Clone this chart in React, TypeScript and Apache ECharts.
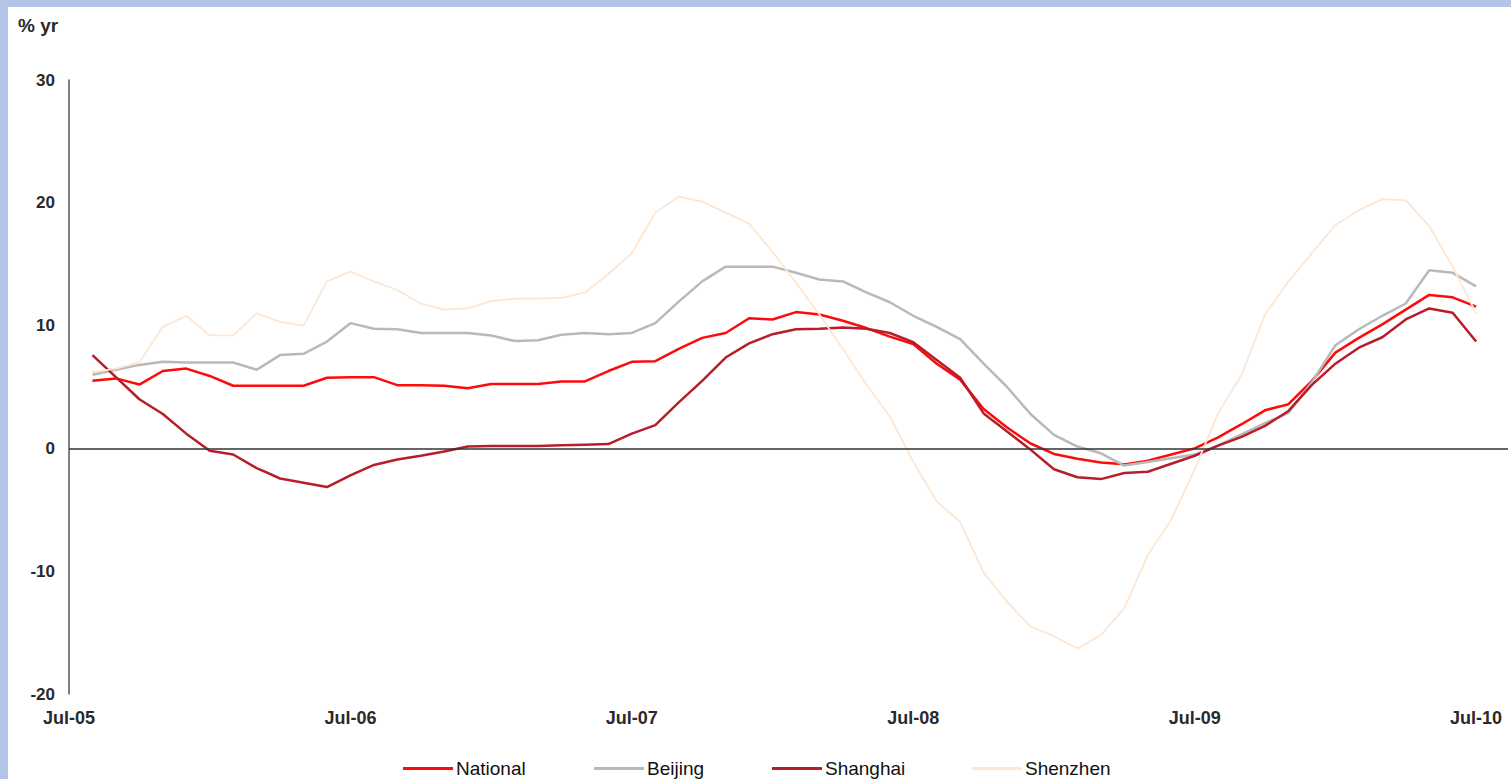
import React, { useEffect, useRef } from "react";
import * as echarts from "echarts";

// Monthly % yr change, Aug-05 .. Jul-10 (x index 1..60; Jul-05 = 0)
const tickLabels = ["Jul-05", "Jul-06", "Jul-07", "Jul-08", "Jul-09", "Jul-10"];
const yTicks = [-20, -10, 0, 10, 20, 30];

const national = [
  5.5, 5.7, 5.2, 6.3, 6.5, 5.9, 5.1, 5.1, 5.1, 5.1,
  5.75, 5.8, 5.8, 5.15, 5.15, 5.1, 4.9, 5.25, 5.25, 5.25,
  5.45, 5.45, 6.3, 7.05, 7.1, 8.1, 9.0, 9.4, 10.6, 10.5,
  11.1, 10.9, 10.4, 9.8, 9.1, 8.5, 6.9, 5.6, 3.2, 1.7,
  0.4, -0.45, -0.85, -1.15, -1.3, -1.0, -0.5, 0.0, 0.9, 1.97,
  3.1, 3.6, 5.5, 7.8, 9.0, 10.1, 11.3, 12.5, 12.3, 11.55,
];
const beijing = [
  6.0, 6.4, 6.8, 7.05, 7.0, 7.0, 7.0, 6.4, 7.6, 7.7,
  8.7, 10.2, 9.75, 9.7, 9.4, 9.4, 9.4, 9.2, 8.75, 8.8,
  9.25, 9.4, 9.3, 9.4, 10.2, 11.95, 13.6, 14.8, 14.8, 14.8,
  14.3, 13.75, 13.6, 12.7, 11.9, 10.8, 9.9, 8.9, 6.9, 5.0,
  2.8, 1.1, 0.15, -0.4, -1.4, -1.1, -0.8, -0.5, 0.25, 1.15,
  2.05, 2.9, 5.4, 8.4, 9.7, 10.8, 11.8, 14.5, 14.3, 13.2,
];
const shanghai = [
  7.6, 5.8, 4.0, 2.8, 1.2, -0.2, -0.5, -1.6, -2.45, -2.8,
  -3.15, -2.2, -1.35, -0.9, -0.6, -0.25, 0.15, 0.2, 0.2, 0.2,
  0.25, 0.3, 0.35, 1.2, 1.9, 3.75, 5.5, 7.4, 8.55, 9.3,
  9.7, 9.75, 9.85, 9.75, 9.4, 8.65, 7.2, 5.75, 2.85, 1.37,
  -0.1, -1.7, -2.35, -2.5, -2.0, -1.9, -1.25, -0.6, 0.23, 0.94,
  1.83, 3.05, 5.17, 6.9, 8.2, 9.05, 10.5, 11.4, 11.05, 8.7,
];
const shenzhen = [
  6.2, 6.5, 7.0, 9.9, 10.8, 9.2, 9.2, 11.0, 10.3, 10.0,
  13.6, 14.4, 13.6, 12.9, 11.8, 11.3, 11.4, 12.0, 12.2, 12.2,
  12.25, 12.7, 14.2, 15.9, 19.2, 20.5, 20.1, 19.2, 18.3, 16.0,
  13.5, 10.9, 8.1, 5.2, 2.6, -1.1, -4.3, -6.0, -10.1, -12.5,
  -14.5, -15.3, -16.3, -15.2, -13.0, -8.7, -5.8, -1.7, 2.85, 6.0,
  10.9, 13.6, 15.9, 18.2, 19.4, 20.3, 20.2, 18.1, 14.8, 11.0,
];

const seriesNames = ["National", "Beijing", "Shanghai", "Shenzhen"];
const seriesColors = ["#ff0a0a", "#b9b9b9", "#b81d2a", "#fde6d2"];
const seriesWidths = [2.5, 2.5, 2.5, 1.8];
const seriesValues = [national, beijing, shanghai, shenzhen];
const legendLefts = [395, 586, 764, 964];

const FONT = "'Liberation Sans', Arial, sans-serif";

export default function App() {
  const ref = useRef<HTMLDivElement>(null);

  useEffect(() => {
    document.body.style.background = "#b3c4e8";
    document.body.style.overflow = "hidden";
    const chart = echarts.init(ref.current!, undefined, { renderer: "svg" });
    const lineSeries = seriesNames.map((name, s) => ({
      name,
      type: "line",
      data: seriesValues[s].map((v, k) => [k + 1, v]),
      showSymbol: false,
      symbol: "none",
      color: seriesColors[s],
      lineStyle: { color: seriesColors[s], width: seriesWidths[s] },
      z: 3,
    }));
    chart.setOption({
      animation: false,
      backgroundColor: "#ffffff",
      title: {
        text: "% yr",
        left: 5,
        top: 4,
        textStyle: { fontFamily: FONT, fontSize: 19, fontWeight: "bold", color: "#2a2a2a" },
      },
      grid: { left: 61, right: 0, top: 73, bottom: 85, containLabel: false },
      xAxis: {
        type: "value",
        min: 0,
        max: 61.36,
        interval: 12,
        axisLine: { show: false },
        axisTick: { show: false },
        splitLine: { show: false },
        axisLabel: {
          margin: 15,
          fontFamily: FONT,
          fontSize: 18,
          fontWeight: "bold",
          color: "#2a2a2a",
          formatter: (v: number) => tickLabels[v / 12] ?? "",
        },
      },
      yAxis: {
        type: "value",
        min: yTicks[0],
        max: yTicks[yTicks.length - 1],
        interval: 10,
        axisLine: { show: true, onZero: false, lineStyle: { color: "#555", width: 1.5 } },
        axisTick: { show: false },
        splitLine: { show: false },
        axisLabel: { margin: 14, fontFamily: FONT, fontSize: 17, fontWeight: "bold", color: "#2a2a2a" },
      },
      legend: seriesNames.map((name, s) => ({
        data: [name],
        left: legendLefts[s],
        top: 752,
        padding: 0,
        icon: "rect",
        itemWidth: 50,
        itemHeight: 3,
        itemGap: 0,
        textStyle: { fontFamily: FONT, fontSize: 19, color: "#111", padding: [0, 0, 0, -2] },
      })),
      series: [
        {
          name: "zero",
          type: "line",
          data: [],
          z: 1,
          markLine: {
            silent: true,
            symbol: "none",
            label: { show: false },
            lineStyle: { color: "#333", width: 1.5, type: "solid" },
            data: [{ yAxis: 0 }],
          },
        },
        ...lineSeries,
      ],
    });
    return () => chart.dispose();
  }, []);

  return (
    <div
      ref={ref}
      style={{ position: "fixed", left: 8, top: 7, width: 1503, height: 772, background: "#fff" }}
    />
  );
}
